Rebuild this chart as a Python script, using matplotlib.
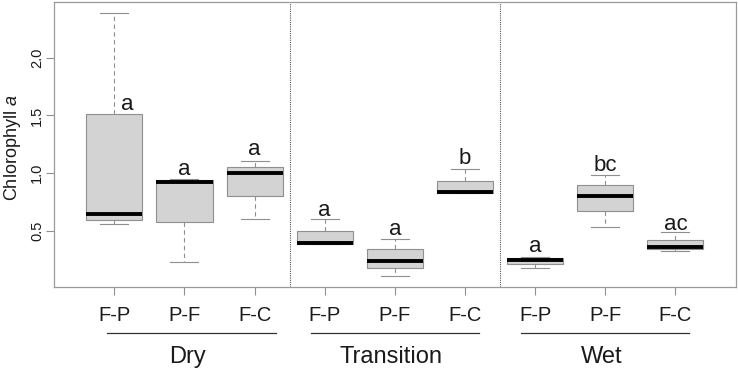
import matplotlib
matplotlib.use("Agg")
import matplotlib.pyplot as plt
from matplotlib.lines import Line2D
import matplotlib.transforms as mtransforms

plt.rcParams['font.family'] = ['Liberation Sans', 'DejaVu Sans']
plt.rcParams['mathtext.fontset'] = 'custom'
plt.rcParams['mathtext.rm'] = 'Liberation Sans'
plt.rcParams['mathtext.it'] = 'Liberation Sans:italic'

# ---- data ----
groups = ["Dry", "Transition", "Wet"]
treatments = ["F-P", "P-F", "F-C"]
whisk_lo = [0.558, 0.23, 0.604, 0.39, 0.111, 0.83, 0.183, 0.54, 0.327]
q1 =       [0.60, 0.58, 0.80, 0.39, 0.178, 0.83, 0.218, 0.67, 0.342]
medians =  [0.647, 0.926, 1.00, 0.40, 0.241, 0.837, 0.25, 0.802, 0.365]
q3 =       [1.51, 0.94, 1.05, 0.497, 0.342, 0.934, 0.264, 0.895, 0.422]
whisk_hi = [2.389, 0.952, 1.107, 0.604, 0.428, 1.041, 0.278, 0.984, 0.489]
letters = ["a", "a", "a", "a", "a", "b", "a", "bc", "ac"]
letter_y = [1.551, 0.984, 1.154, 0.63, 0.465, 1.079, 0.316, 1.021, 0.509]
letter_dx = [0.19, 0, 0, 0, 0, 0, 0, 0, 0]

text_col = "#1a1a1a"
edge_col = "#8f8f8f"

fig = plt.figure(figsize=(7.38, 3.70), dpi=100)
ax = fig.add_axes([54/738, (370-286.7)/370, (735.7-54)/738, (286.7-2)/370])

positions = list(range(1, len(medians) + 1))
stats = []
for i in range(len(medians)):
    stats.append(dict(whislo=whisk_lo[i], q1=q1[i], med=medians[i],
                      q3=q3[i], whishi=whisk_hi[i], fliers=[]))

ax.bxp(stats, positions=positions, widths=0.8, capwidths=0.4,
       patch_artist=True, showfliers=False,
       boxprops=dict(facecolor="#d3d3d3", edgecolor=edge_col, linewidth=0.8),
       medianprops=dict(color="black", linewidth=2.8, solid_capstyle="butt"),
       whiskerprops=dict(color=edge_col, linewidth=0.8, linestyle=(0, (4, 3))),
       capprops=dict(color=edge_col, linewidth=0.8))

for i, (lab, y) in enumerate(zip(letters, letter_y)):
    ax.text(positions[i] + letter_dx[i], y, lab, ha="center", va="baseline",
            fontsize=16, color=text_col)

# separators between seasons
for xv in [3.5, 6.5]:
    ax.axvline(xv, color="#555555", linestyle=(0, (1, 1)), linewidth=0.8)

ax.set_xlim(0.14, 9.86)
ax.set_ylim(0.02, 2.48)

ax.set_xticks(positions)
ax.set_xticklabels(treatments * len(groups), fontsize=14.5, color=text_col)
ax.set_yticks([0.5, 1.0, 1.5, 2.0])
ax.set_yticklabels(["0.5", "1.0", "1.5", "2.0"], rotation=90, va="center",
                   fontsize=10.5, color=text_col)
ax.tick_params(axis="x", length=6, width=0.8, color=edge_col, pad=8)
ax.tick_params(axis="y", length=6, width=0.8, color=edge_col, pad=1)
for s in ax.spines.values():
    s.set_color("#9a9a9a")
    s.set_linewidth(0.9)

fig.text(13/738, 1 - 148/370, "Chlorophyll $\\mathit{a}$", rotation=90,
         ha="center", va="center", fontsize=13, color=text_col)

# group lines and labels
trans = mtransforms.blended_transform_factory(ax.transData, ax.transAxes)
spans = [(0.9, 3.3), (3.8, 6.2), (6.8, 9.2)]
for g, (a, b) in zip(groups, spans):
    ln = Line2D([a, b], [-0.1637, -0.1637], transform=trans, color="#333333",
                linewidth=0.9, clip_on=False)
    ax.add_line(ln)
    ax.text((a + b) / 2 - 0.05, -0.269, g, transform=trans, ha="center",
            va="baseline", fontsize=17, color=text_col, clip_on=False)

fig.savefig("out.png", dpi=100)
